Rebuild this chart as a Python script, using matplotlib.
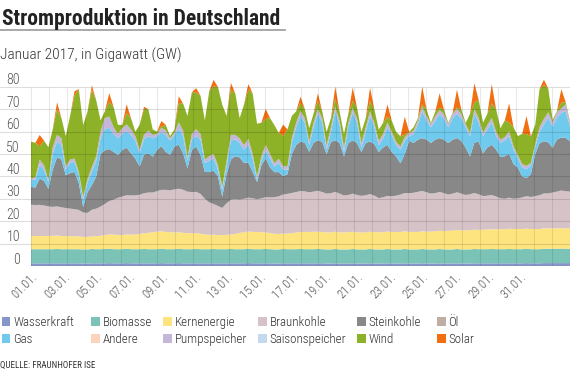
import matplotlib.pyplot as plt
from matplotlib.lines import Line2D
from matplotlib.patches import Rectangle
from matplotlib import transforms
import numpy as np

# Stunden ab 01.01. 00:00, alle 6 Stunden bis 31.01. 24:00
hours = np.arange(0, 745, 6)

# Werte in GW, je Zeile vier Tage zu je 0, 6, 12, 18 Uhr
wasserkraft = [
    1.2, 1.2, 1.2, 1.2,  1.2, 1.2, 1.2, 1.2,  1.2, 1.2, 1.2, 1.2,  1.1, 1.1, 1.2, 1.2,
    1.2, 1.2, 1.3, 1.2,  1.2, 1.2, 1.3, 1.2,  1.2, 1.2, 1.2, 1.2,  1.2, 1.2, 1.3, 1.2,
    1.2, 1.2, 1.3, 1.2,  1.2, 1.2, 1.2, 1.2,  1.2, 1.2, 1.2, 1.2,  1.2, 1.2, 1.2, 1.2,
    1.2, 1.2, 1.3, 1.2,  1.2, 1.2, 1.2, 1.2,  1.1, 1.1, 1.2, 1.2,  1.2, 1.2, 1.2, 1.2,
    1.2, 1.2, 1.2, 1.2,  1.1, 1.1, 1.2, 1.1,  1.1, 1.1, 1.2, 1.1,  1.1, 1.1, 1.2, 1.1,
    1.1, 1.1, 1.2, 1.1,  1.1, 1.1, 1.2, 1.1,  1.1, 1.1, 1.2, 1.1,  1.1, 1.1, 1.2, 1.1,
    1.1, 1.1, 1.2, 1.1,  1.1, 1.1, 1.2, 1.2,  1.2, 1.2, 1.2, 1.2,  1.2, 1.2, 1.2, 1.2,
    1.2, 1.2, 1.3, 1.2,  1.2, 1.2, 1.3, 1.3,  1.3, 1.3, 1.3, 1.3,  1.3,
]
biomasse = [
    6.3, 6.3, 6.3, 6.3,  6.3, 6.3, 6.4, 6.3,  6.3, 6.3, 6.3, 6.3,  6.3, 6.3, 6.4, 6.3,
    6.3, 6.4, 6.4, 6.3,  6.3, 6.3, 6.4, 6.3,  6.3, 6.3, 6.4, 6.3,  6.3, 6.3, 6.4, 6.3,
    6.3, 6.3, 6.4, 6.3,  6.3, 6.3, 6.4, 6.3,  6.3, 6.3, 6.4, 6.3,  6.3, 6.3, 6.4, 6.3,
    6.3, 6.3, 6.4, 6.3,  6.3, 6.3, 6.4, 6.3,  6.3, 6.3, 6.4, 6.3,  6.3, 6.3, 6.4, 6.3,
    6.3, 6.3, 6.4, 6.3,  6.3, 6.3, 6.4, 6.3,  6.3, 6.3, 6.4, 6.3,  6.3, 6.3, 6.4, 6.3,
    6.3, 6.3, 6.4, 6.3,  6.3, 6.3, 6.4, 6.3,  6.3, 6.3, 6.4, 6.3,  6.3, 6.3, 6.4, 6.3,
    6.3, 6.3, 6.4, 6.3,  6.3, 6.3, 6.4, 6.3,  6.3, 6.3, 6.4, 6.3,  6.3, 6.3, 6.4, 6.3,
    6.3, 6.3, 6.4, 6.3,  6.3, 6.3, 6.4, 6.4,  6.4, 6.4, 6.5, 6.4,  6.4,
]
kernenergie = [
    5.9, 5.9, 5.9, 5.9,  5.9, 6.0, 6.0, 5.9,  5.9, 5.8, 5.8, 5.7,  5.6, 5.6, 5.7, 5.8,
    6.0, 6.2, 6.4, 6.5,  6.4, 6.3, 6.4, 6.5,  6.6, 6.8, 7.0, 7.3,  7.6, 7.8, 7.8, 7.7,
    7.6, 7.5, 7.4, 7.3,  7.2, 7.1, 7.1, 6.9,  6.6, 6.4, 6.4, 6.3,  6.3, 6.4, 6.5, 6.8,
    7.3, 7.6, 7.7, 7.7,  7.7, 7.6, 7.4, 7.2,  7.0, 6.9, 6.9, 7.0,  7.2, 7.4, 7.6, 7.7,
    7.7, 7.8, 7.7, 7.7,  7.6, 7.6, 7.7, 7.6,  7.6, 7.7, 7.7, 7.6,  7.6, 7.6, 7.7, 7.7,
    7.7, 7.7, 7.8, 7.8,  7.8, 7.8, 7.9, 7.8,  7.8, 7.8, 7.9, 7.9,  8.0, 8.1, 8.1, 8.2,
    8.3, 8.4, 8.5, 8.5,  8.5, 8.6, 8.6, 8.6,  8.7, 8.8, 8.8, 8.9,  8.9, 8.9, 9.0, 9.0,
    9.0, 9.0, 9.0, 9.0,  9.0, 9.0, 9.1, 9.1,  9.1, 9.1, 9.1, 9.1,  9.1,
]
braunkohle = [
    14.0, 13.8, 13.9, 13.6,  13.2, 12.9, 13.0, 12.8,  12.5, 12.3, 12.1, 11.8,  10.9, 10.7, 11.8, 12.3,
    13.0, 13.9, 14.9, 15.6,  16.5, 17.2, 17.5, 17.5,  17.4, 17.5, 17.9, 18.0,  17.7, 18.1, 18.5, 18.8,
    18.7, 19.2, 19.4, 19.2,  18.5, 18.4, 18.4, 17.8,  15.9, 14.5, 13.7, 13.0,  12.1, 14.1, 15.5, 15.5,
    14.8, 14.9, 15.1, 15.0,  14.6, 15.1, 15.7, 15.9,  16.3, 16.8, 17.4, 17.7,  17.9, 18.1, 18.3, 18.1,
    17.7, 17.9, 18.3, 17.8,  17.3, 17.5, 17.8, 17.3,  16.5, 16.6, 17.0, 16.7,  16.3, 16.6, 16.8, 16.3,
    15.2, 15.6, 15.9, 15.9,  16.2, 16.7, 17.1, 17.3,  17.5, 17.9, 18.0, 17.6,  16.9, 17.0, 17.4, 16.9,
    16.2, 16.5, 16.8, 16.4,  15.8, 16.0, 16.4, 15.9,  15.0, 15.1, 15.3, 14.6,  13.8, 13.6, 13.9, 13.5,
    13.7, 14.1, 14.5, 14.3,  14.7, 15.1, 15.6, 15.6,  16.0, 16.4, 16.8, 16.6,  16.4,
]
steinkohle = [
    8.0, 7.8, 11.7, 11.0,  7.9, 16.6, 22.0, 21.3,  14.6, 15.9, 16.6, 12.0,  2.5, 9.2, 11.0, 14.4,
    23.5, 23.9, 23.2, 21.4,  19.1, 20.8, 21.2, 18.8,  16.5, 12.6, 17.2, 17.5,  16.0, 18.4, 19.5, 17.0,
    15.8, 19.1, 19.7, 16.3,  10.4, 18.8, 20.3, 17.4,  12.0, 13.6, 14.9, 13.2,  5.1, 13.0, 18.0, 19.2,
    18.9, 16.0, 15.7, 11.8,  7.7, 14.8, 17.4, 13.4,  11.2, 10.8, 8.2, 8.8,  17.4, 21.0, 22.1, 21.7,
    18.1, 21.8, 22.5, 22.5,  17.6, 22.9, 23.0, 22.6,  17.4, 23.2, 23.8, 23.2,  19.6, 23.3, 23.5, 23.0,
    20.6, 22.2, 22.8, 19.8,  17.5, 14.0, 17.5, 23.4,  22.2, 23.3, 23.6, 23.5,  22.6, 23.9, 24.0, 23.9,
    23.0, 24.1, 24.2, 23.6,  21.2, 16.9, 22.5, 23.5,  19.1, 21.6, 22.4, 21.0,  18.6, 19.0, 19.6, 15.5,
    13.8, 9.4, 8.0, 10.2,  18.8, 23.2, 23.3, 22.8,  20.0, 23.3, 23.6, 23.8,  22.5,
]
gas = [
    3.0, 3.5, 6.0, 5.0,  3.0, 7.0, 7.0, 6.5,  2.5, 4.5, 4.5, 4.0,  3.0, 4.5, 6.0, 7.0,
    7.0, 9.5, 9.5, 8.0,  7.5, 7.2, 7.4, 8.2,  8.0, 6.1, 6.9, 7.7,  8.2, 6.2, 6.2, 7.5,
    6.4, 5.2, 7.0, 7.7,  3.4, 4.7, 4.7, 6.9,  4.0, 5.0, 5.5, 3.0,  3.0, 4.0, 8.5, 7.5,
    6.5, 6.0, 8.0, 6.0,  1.0, 2.0, 3.5, 4.0,  2.5, 4.0, 3.0, 2.0,  5.0, 8.0, 11.5, 9.0,
    3.0, 7.0, 12.0, 8.5,  2.0, 4.5, 13.0, 8.0,  2.0, 7.0, 12.5, 9.0,  2.0, 5.0, 11.5, 7.5,
    3.0, 4.0, 8.0, 7.5,  5.0, 6.0, 6.0, 2.0,  4.0, 6.5, 12.0, 8.5,  7.0, 8.5, 10.5, 9.5,
    7.0, 9.5, 11.0, 10.0,  9.0, 9.0, 13.0, 8.5,  7.7, 8.0, 10.0, 6.0,  6.2, 7.0, 8.0, 6.5,
    4.0, 4.0, 4.0, 4.0,  3.0, 5.2, 7.5, 11.0,  9.4, 9.7, 11.0, 12.0,  6.5,
]
pumpspeicher = [
    0.8, 1.0, 2.5, 2.0,  1.0, 3.0, 3.0, 3.0,  1.5, 1.5, 1.5, 1.0,  1.5, 1.5, 2.0, 2.0,
    3.0, 5.0, 5.0, 3.0,  2.0, 2.5, 3.0, 2.5,  2.0, 1.5, 2.0, 2.5,  1.5, 1.0, 2.0, 2.0,
    1.0, 1.0, 3.0, 2.5,  1.5, 2.5, 3.0, 2.5,  1.5, 2.0, 2.0, 2.0,  1.5, 2.0, 2.5, 2.0,
    2.0, 2.0, 2.5, 2.0,  1.5, 2.0, 2.5, 2.0,  1.5, 2.0, 1.5, 1.5,  2.0, 2.0, 2.0, 2.0,
    1.5, 2.0, 2.0, 2.0,  2.0, 2.0, 2.0, 2.0,  2.0, 2.0, 2.0, 2.0,  2.0, 2.0, 2.0, 2.0,
    2.0, 2.0, 2.0, 1.5,  1.5, 1.5, 1.5, 1.5,  1.5, 2.0, 2.0, 2.0,  1.5, 2.0, 2.0, 2.0,
    1.5, 2.0, 2.0, 2.0,  1.5, 1.5, 2.0, 2.0,  1.5, 2.0, 2.0, 2.0,  1.5, 1.5, 2.0, 1.5,
    1.5, 1.5, 1.5, 1.0,  1.5, 2.0, 2.5, 2.5,  2.0, 2.5, 2.0, 3.0,  2.0,
]
wind = [
    16.3, 15.5, 6.0, 11.0,  14.5, 8.0, 11.5, 9.0,  13.5, 19.5, 28.0, 37.0,  32.0, 30.0, 34.5, 25.0,
    5.0, 3.0, 6.5, 9.0,  4.0, 1.5, 5.0, 5.0,  2.0, 11.0, 11.5, 9.5,  2.5, 1.0, 0.5, 2.5,
    1.0, 1.5, 8.6, 12.0,  18.5, 18.5, 16.3, 17.0,  17.5, 29.0, 30.0, 35.0,  36.5, 20.0, 20.1, 18.5,
    9.0, 18.0, 22.0, 27.0,  23.5, 15.0, 11.5, 16.0,  17.0, 11.5, 13.5, 16.5,  10.0, 5.0, 3.5, 4.0,
    6.0, 4.0, 3.5, 3.0,  6.0, 4.0, 3.5, 4.0,  6.0, 4.0, 3.0, 5.0,  5.0, 4.0, 4.5, 6.0,
    5.0, 5.0, 2.5, 5.0,  4.5, 4.5, 1.0, 0.5,  1.5, 1.0, 1.0, 3.0,  0.5, 2.0, 1.0, 2.0,
    0.5, 0.5, 0.6, 2.0,  0.5, 8.5, 3.0, 8.0,  4.5, 5.0, 6.5, 10.0,  5.0, 7.5, 4.0, 8.5,
    8.5, 13.5, 14.2, 12.0,  8.5, 17.0, 15.0, 10.5,  1.0, 0.5, 2.6, 1.0,  0.5,
]
solar = [
    0, 0, 5.0, 0,  0, 0, 3.0, 0,  0, 0, 2.0, 0,  0, 0, 2.0, 0,
    0, 0, 4.0, 0,  0, 0, 4.0, 0,  0, 0, 1.0, 0,  0, 0, 2.5, 0,
    0, 0, 3.0, 0,  0, 0, 2.0, 0,  0, 0, 3.0, 0,  0, 0, 3.0, 0,
    0, 0, 2.5, 0,  0, 0, 4.5, 0,  0, 0, 5.0, 0,  0, 0, 3.0, 0,
    0, 0, 3.5, 0,  0, 0, 5.5, 0,  0, 0, 6.0, 0,  0, 0, 6.0, 0,
    0, 0, 5.5, 0,  0, 0, 8.0, 0,  0, 0, 8.0, 0,  0, 0, 6.5, 0,
    0, 0, 8.0, 0,  0, 0, 8.5, 0,  0, 0, 8.5, 0,  0, 0, 8.5, 0,
    0, 0, 8.0, 0,  0, 0, 2.5, 0,  0, 0, 6.0, 0,  0,
]
# in der Grafik nicht sichtbar
oel = [0.0] * len(hours)
andere = [0.0] * len(hours)
saisonspeicher = [0.0] * len(hours)

labels = ["Wasserkraft", "Biomasse", "Kernenergie", "Braunkohle", "Steinkohle", "Öl",
          "Gas", "Andere", "Pumpspeicher", "Saisonspeicher", "Wind", "Solar"]
series = [wasserkraft, biomasse, kernenergie, braunkohle, steinkohle, oel,
          gas, andere, pumpspeicher, saisonspeicher, wind, solar]
colors = ["#8796c8", "#7bc3b6", "#fde47f", "#d6c3c8", "#888888", "#bfaea4",
          "#6fcaee", "#fcd3bc", "#c5b7d9", "#c3d9f0", "#8db127", "#f26f11"]

date_labels = ["01.01.", "03.01.", "05.01.", "07.01.", "09.01.", "11.01.", "13.01.", "15.01.",
               "17.01.", "19.01.", "21.01.", "23.01.", "25.01.", "27.01.", "29.01.", "31.01."]
y_ticks = [0, 10, 20, 30, 40, 50, 60, 70, 80]

plt.rcParams['font.family'] = ['Roboto Condensed', 'Liberation Sans Narrow', 'Roboto', 'DejaVu Sans']

W, H = 576, 381
fig = plt.figure(figsize=(W / 100, H / 100), dpi=100)
fx = lambda x: x / W
fy = lambda y: 1 - y / H

# Achse: links bis zum Bildrand (Gitterlinien laufen unter den Zahlen durch)
px_per_h = 539 / 744
left_h = 31 / px_per_h
ax = fig.add_axes([0, fy(266), fx(570), 84 * 2.24 / H])
ax.stackplot(hours, *series, colors=colors, linewidth=0)
ax.set_xlim(-left_h, 744)
ax.set_ylim(0, 84)

# Gitter über den Flächen
for v in y_ticks:
    ax.axhline(v, color='black', alpha=0.13, lw=0.8, zorder=5)
ax.vlines(np.linspace(0, 744, 31), 0, 80, color='black', alpha=0.09, lw=0.8, zorder=5)

for s in ax.spines.values():
    s.set_visible(False)
ax.set_yticks([])
lab_off = transforms.offset_copy(ax.get_yaxis_transform(), fig=fig, x=0, y=2.5, units='dots')
for v in y_ticks:
    ax.text(20 / 570, v, str(v), transform=lab_off, ha='right', va='baseline',
            fontsize=10, fontweight='light', color='#555555')

ax.set_xticks(np.arange(len(date_labels)) * 45)
ax.set_xticklabels(date_labels, rotation=45, ha='right', va='top', rotation_mode='anchor',
                   fontsize=9, fontweight='light', color='#555555')
ax.tick_params(axis='x', length=0, pad=3)

# Titel
fig.text(fx(2), fy(25), "Stromproduktion in Deutschland", fontsize=15.5, fontweight='bold',
         color='#222222', va='baseline')
fig.add_artist(Line2D([0, fx(285)], [fy(29.5), fy(29.5)], color='#9a9a9a', lw=1.2))
fig.text(fx(0), fy(59.5), "Januar 2017, in Gigawatt (GW)", fontsize=11.1, fontweight='light',
         color='#333333', va='baseline')

# Legende
col_x = [2, 91, 163, 258, 357, 437]
row_y = [325.7, 342.7]
for i, (lab, c) in enumerate(zip(labels, colors)):
    x = col_x[i % 6]
    y = row_y[i // 6]
    fig.add_artist(Rectangle((fx(x), fy(y)), fx(8.5), 8.5 / H, color=c,
                             transform=fig.transFigure, lw=0))
    fig.text(fx(x + 11.5), fy(y), lab, fontsize=9.4, fontweight='light', color='#333333',
             va='baseline')

fig.text(fx(0), fy(367.5), "QUELLE: FRAUNHOFER ISE", fontsize=6.5, color='#333333',
         va='baseline')

fig.savefig("out.png", dpi=100)
